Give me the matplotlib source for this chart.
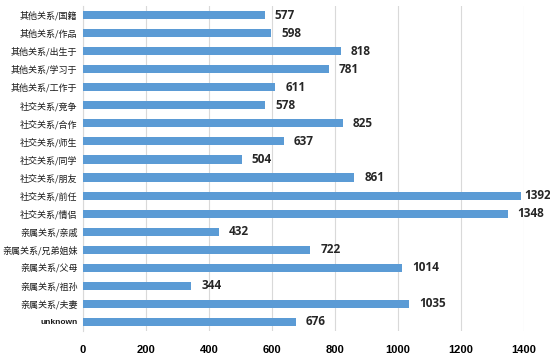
import matplotlib
matplotlib.use("Agg")
import matplotlib.pyplot as plt
from matplotlib import font_manager

categories = ["其他关系/国籍", "其他关系/作品", "其他关系/出生于", "其他关系/学习于", "其他关系/工作于",
              "社交关系/竞争", "社交关系/合作", "社交关系/师生", "社交关系/同学", "社交关系/朋友",
              "社交关系/前任", "社交关系/情侣", "亲属关系/亲戚", "亲属关系/兄弟姐妹", "亲属关系/父母",
              "亲属关系/祖孙", "亲属关系/夫妻", "unknown"]
values = [577, 598, 818, 781, 611, 578, 825, 637, 504, 861, 1392, 1348, 432, 722, 1014, 344, 1035, 676]
xticks = [0, 200, 400, 600, 800, 1000, 1200, 1400]

plt.rcParams['font.family'] = ['Noto Sans CJK SC', 'DejaVu Sans']

names = {f.name for f in font_manager.fontManager.ttflist}
label_font = 'Liberation Sans Narrow' if 'Liberation Sans Narrow' in names else 'Open Sans'
label_size = 11 if label_font == 'Liberation Sans Narrow' else 8.5

fig = plt.figure(figsize=(5.5, 3.56), dpi=100)
ax = fig.add_axes([83/550, 1 - 331/356, (524-83)/550, (331-6)/356])

n = len(categories)
ypos = list(range(n))
ax.barh(ypos, values, height=0.45, color="#5B9BD5", zorder=3)
ax.set_ylim(n - 0.5, -0.5)
ax.set_xlim(0, 1400)
ax.set_xticks(xticks)
ax.set_xticklabels([str(t) for t in xticks], fontsize=8, fontweight='bold', family=['Liberation Sans'])
ax.set_yticks(ypos)
ax.set_yticklabels(categories, fontsize=6.5, color='#1a1a1a')
for lbl in ax.get_yticklabels():
    if lbl.get_text() == "unknown":
        lbl.set_family(['Liberation Sans'])
        lbl.set_fontweight('bold')
        lbl.set_fontsize(6)
ax.tick_params(axis='both', length=0)
ax.tick_params(axis='x', pad=10)
ax.tick_params(axis='y', pad=4)
ax.grid(axis='x', color='#D9D9D9', linewidth=0.8, zorder=0)
for s in ['top', 'right', 'bottom']:
    ax.spines[s].set_visible(False)
ax.spines['left'].set_color('#D9D9D9')

for y, v in zip(ypos, values):
    ax.text(min(v + 32, 1400), y, str(v), va='center', ha='left', fontsize=label_size,
            fontweight='bold', family=[label_font], color='#262626', clip_on=False)

fig.savefig("out.png", dpi=100)
